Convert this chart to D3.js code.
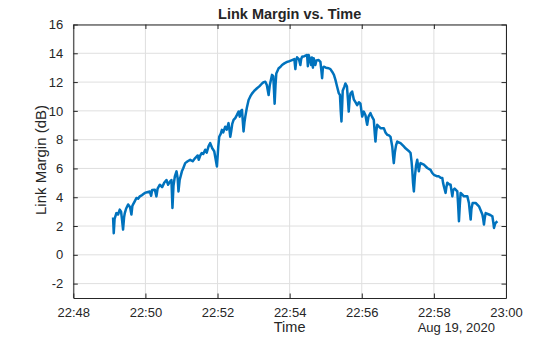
<!DOCTYPE html>
<html>
<head>
<meta charset="utf-8">
<script src="https://cdn.jsdelivr.net/npm/d3@7"></script>
<style>
  body { margin: 0; background: #fff; }
  text { font-family: "Liberation Sans", Arial, Helvetica, sans-serif; fill: #262626; }
</style>
</head>
<body>
<svg id="chart" width="560" height="337"></svg>
<script>
// Seconds after 22:48:00 on Aug 19, 2020
const seconds = [66.2,67.3,68.7,71.7,74.5,77.3,79.5,81.2,82.8,84.5,85.7,87.8,91.2,94.5,96.7,98.3,99.5,102,105,107.8,110.7,114.5,119,122.8,127.3,129.5,131.2,135.7,138.3,140.3,144,147.8,151.2,155,157.8,161.2,163.3,165,166.7,169,171.7,173.7,175,177,180.7,182.8,186.2,190.3,194.5,198.7,202.8,207,208.7,211.2,213.8,216.2,219.5,222,225,227.8,231.2,234.5,237,239,241.2,242.8,245.3,247.3,249.5,252.8,255.3,258.3,259.8,261.2,262.8,264.5,266.7,269.5,272.3,275,277,278.7,280.7,282,283.3,284.8,286.2,288.7,291.7,294.5,297.3,301.2,305.7,309.5,314,317,319.5,322,325,327,330.7,332.8,335,336.5,337.8,341.7,344.5,347.3,351.2,355.7,359.5,364,367.8,369.5,371,372.3,375.3,377.8,379.2,380.7,384.5,389,390.3,391.7,393.7,395.7,397,398.7,400,401.5,402.8,404.5,408.3,411.2,412.8,414,415.3,416.7,420.3,425,427.8,430.7,433.7,436.2,439,441.7,443.7,445,446.2,447.5,448.3,451.2,452.8,455.3,457,458.3,459.8,461.2,464,466.7,469.5,472.3,475.3,477.8,480.7,483.3,486.2,487.8,489,491.2,494.5,497,500,501.7,502.8,504.2,505.7,508.7,511.2,516.7,519.5,522.3,525.3,527.8,530.7,532,533.3,535,537,539,542,544.5,550,552.8,555.7,558.7,561.2,562.8,564,565.3,566.7,568.3,570.3,572.3,573.7,575,576.5,577.8,583.3,589,594.5,597,600,605.7,608.3,611.2,614,615.3,616.7,618.2,619.5,620.8,622.3,625.3,627.8,629.5,630.7,632,634.5,639,640.3,641.7,643.2,644.5,647,650,655.7,658.3,659.8,661.2,662.5,664.5,669.5,675,677.8,680.7,682,683.3,684.8,686.2,691.7,694.5,697.3,698.7,700,701.5,702.8,705.7];
// Link margin in dB
const margin = [2.6,1.5,2.5,2.9,2.8,3.14,3.0,2.4,1.75,2.6,2.9,3.2,3.5,3.3,2.8,3.4,3.5,3.7,3.95,3.9,4.06,4.15,4.3,4.35,4.4,4.1,4.5,4.52,4.06,4.6,4.87,4.7,5.0,5.2,4.87,5.1,5.2,3.25,4.8,5.45,5.8,5.3,4.4,5.2,5.8,6.0,6.37,6.5,6.6,6.5,6.72,6.9,6.6,6.9,7.07,7.0,7.3,7.1,7.53,7.76,7.4,7.2,6.6,6.14,7.5,8.2,8.4,8.68,8.5,8.9,8.7,9.15,8.7,8.2,8.6,9.1,9.37,9.5,9.72,9.95,9.6,10.0,10.07,9.3,8.57,9.2,9.6,10.2,10.76,11.0,11.2,11.4,11.57,11.7,11.9,12.0,12.03,11.8,11.1,11.8,12.5,12.4,10.5,11.8,12.6,12.96,13.05,13.19,13.3,13.4,13.45,13.53,13.6,12.9,13.5,13.72,13.6,13.19,13.6,13.76,13.8,13.88,13.1,13.88,13.6,13.19,13.7,13.0,13.65,13.4,13.19,13.5,13.53,13.4,12.8,12.27,13.0,13.07,13.0,12.96,12.9,12.72,12.5,12.15,11.68,11.23,11.1,10.0,9.26,10.5,11.4,11.7,11.9,11.7,10.8,9.95,10.8,11.2,11.34,10.8,10.6,10.4,10.6,10.5,9.6,9.95,9.7,9.3,9.03,9.6,9.84,9.6,9.37,8.4,7.87,8.6,9.03,8.9,8.8,8.8,8.5,8.34,8.3,8.2,7.53,6.9,6.37,7.1,7.6,7.87,7.8,7.76,7.53,7.4,7.3,7.2,7.07,6.5,5.9,5.0,4.4,5.4,6.2,6.6,6.2,5.8,6.2,6.37,6.26,6.03,5.9,5.7,5.56,5.45,5.45,5.35,5.34,5.0,4.75,4.5,4.3,4.7,5.0,4.9,4.87,4.4,4.06,4.5,4.6,4.4,3.5,2.33,3.5,4.3,4.2,4.06,4.06,3.6,3.0,2.45,3.2,3.6,3.6,3.37,3.1,2.8,2.5,2.1,2.6,2.9,2.8,2.75,2.68,2.3,1.87,2.1,2.22,2.33];
const yTicks = [-2, 0, 2, 4, 6, 8, 10, 12, 14, 16];
const xTickMinutes = [48, 50, 52, 54, 56, 58, 60];
const titleText = "Link Margin vs. Time";
const xLabel = "Time";
const yLabel = "Link Margin (dB)";
const dateLabel = "Aug 19, 2020";

const t0 = new Date(2020, 7, 19, 22, 48, 0);
const data = seconds.map((s, i) => ({ t: new Date(t0.getTime() + s * 1000), v: margin[i] }));

const svg = d3.select("#chart");
const L = 73.3, R = 506, T = 24.5, B = 298;
const x = d3.scaleTime().domain([t0, new Date(2020, 7, 19, 23, 0, 0)]).range([L, R]);
const y = d3.scaleLinear().domain([-3, 16]).range([B, T]);
const xTicks = xTickMinutes.map(m => new Date(2020, 7, 19, 22, m, 0));
const fmt = d3.timeFormat("%H:%M");
const axisColor = "#262626";
const gridColor = "#dfdfdf";

// grid
svg.append("g").selectAll("line.gx").data(xTicks).join("line")
  .attr("x1", d => x(d)).attr("x2", d => x(d)).attr("y1", T).attr("y2", B)
  .attr("stroke", gridColor).attr("stroke-width", 1);
svg.append("g").selectAll("line.gy").data(yTicks).join("line")
  .attr("x1", L).attr("x2", R).attr("y1", d => y(d)).attr("y2", d => y(d))
  .attr("stroke", gridColor).attr("stroke-width", 1);

// line
svg.append("path").datum(data)
  .attr("fill", "none").attr("stroke", "#0072BD").attr("stroke-width", 2.5)
  .attr("stroke-linejoin", "round")
  .attr("d", d3.line().x(d => x(d.t)).y(d => y(d.v)));

// axes
const tickLen = 4.5;
const xAxisB = d3.axisBottom(x).tickValues(xTicks).tickFormat(fmt).tickSizeInner(-tickLen).tickSizeOuter(0).tickPadding(10);
const xAxisT = d3.axisTop(x).tickValues(xTicks).tickFormat("").tickSizeInner(-tickLen).tickSizeOuter(0);
const yAxisL = d3.axisLeft(y).tickValues(yTicks).tickFormat(d => String(d)).tickSizeInner(-tickLen).tickSizeOuter(0).tickPadding(10);
const yAxisR = d3.axisRight(y).tickValues(yTicks).tickFormat("").tickSizeInner(-tickLen).tickSizeOuter(0);

function styleAxis(g) {
  g.selectAll("path.domain").attr("stroke", axisColor).attr("stroke-width", 1);
  g.selectAll(".tick line").attr("stroke", axisColor).attr("stroke-width", 1);
  g.selectAll(".tick text").attr("fill", axisColor).style("font-size", "13px")
    .style("font-family", '"Liberation Sans", Arial, sans-serif');
}
svg.append("g").attr("transform", `translate(0,${B})`).call(xAxisB).call(styleAxis);
svg.append("g").attr("transform", `translate(0,${T})`).call(xAxisT).call(styleAxis);
svg.append("g").attr("transform", `translate(${L},0)`).call(yAxisL).call(styleAxis);
svg.append("g").attr("transform", `translate(${R},0)`).call(yAxisR).call(styleAxis);

// labels
svg.append("text").attr("x", (L + R) / 2).attr("y", 18.5).attr("text-anchor", "middle")
  .style("font-size", "14.5px").style("font-weight", "bold").text(titleText);
svg.append("text").attr("x", (L + R) / 2).attr("y", 332).attr("text-anchor", "middle")
  .style("font-size", "14.5px").text(xLabel);
svg.append("text").attr("x", 495).attr("y", 332).attr("text-anchor", "end")
  .style("font-size", "13px").text(dateLabel);
svg.append("text").attr("transform", `translate(46,160) rotate(-90)`)
  .attr("text-anchor", "middle").style("font-size", "15px").text(yLabel);
</script>
</body>
</html>
